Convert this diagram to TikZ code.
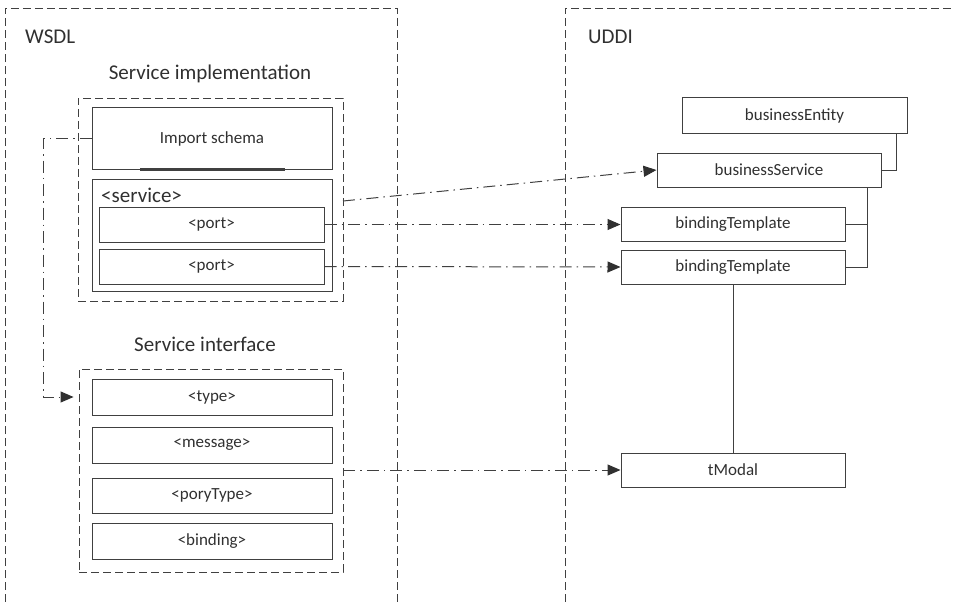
\documentclass[tikz,border=0pt]{standalone}
\usepackage{fontspec}
\setmainfont{Carlito}
\usetikzlibrary{arrows.meta}
\definecolor{ln}{HTML}{404040}
\definecolor{tx}{HTML}{303030}
\begin{document}
\begin{tikzpicture}[x=1pt,y=-1pt,
  box/.style={draw=ln, line width=1pt, rectangle, inner sep=0pt, text=tx, font=\fontsize{17}{20}\selectfont},
  grp/.style={draw=ln, line width=0.9pt, dash pattern=on 8pt off 4pt, rectangle, inner sep=0pt},
  ttl/.style={text=tx, font=\fontsize{21}{25}\selectfont, inner sep=0pt},
  ddash/.style={draw=ln, line width=1pt, dash pattern=on 12pt off 5pt on 1.5pt off 5pt},
  arr/.style={ddash, -{Triangle[length=13pt,width=11pt,color=tx]}},
  conn/.style={draw=ln, line width=1pt}]
\useasboundingbox (0,0) rectangle (954,602);
% outer frames
\draw[grp] (5,602) -- (5,8) -- (397,8) -- (397,602);
\draw[grp] (565,602) -- (565,8) -- (954,8);
\node[ttl, anchor=west] (wsdl) at (25,37) {WSDL};
\node[ttl, anchor=west] (uddi) at (588,37) {UDDI};
% service implementation
\node[ttl] (sitl) at (210,74) {Service implementation};
\node[grp, minimum width=265pt, minimum height=203pt] (siBox) at (210.5,199.5) {};
\node[box, minimum width=240pt, minimum height=61pt] (imp) at (212,138.5) {Import schema};
\draw[ln, line width=2.2pt] ([xshift=-72pt]imp.south) -- ([xshift=73pt]imp.south);
\node[box, minimum width=240pt, minimum height=112pt] (svc) at (212,235) {};
\node[ttl, anchor=west] (svcl) at (101,195) {<service>};
\node[box, minimum width=225pt, minimum height=35pt] (port1) at (211.5,224.5) {<port>};
\node[box, minimum width=225pt, minimum height=35pt] (port2) at (211.5,266.5) {<port>};
% service interface
\node[ttl] (sift) at (205,344) {Service interface};
\node[grp, minimum width=264pt, minimum height=203pt] (sifBox) at (211,470.5) {};
\node[box, minimum width=240pt, minimum height=36pt] (type) at (212,397) {<type>};
\node[box, minimum width=240pt, minimum height=36pt] (msg) at (212,445) {<message>};
\node[box, minimum width=240pt, minimum height=35pt] (ptype) at (212,495.5) {<poryType>};
\node[box, minimum width=240pt, minimum height=36pt] (bind) at (212,541) {<binding>};
% UDDI
\node[box, minimum width=225pt, minimum height=35pt] (be) at (794.5,115.5) {businessEntity};
\node[box, minimum width=224pt, minimum height=34pt] (bs) at (769,170) {businessService};
\node[box, minimum width=224pt, minimum height=34pt] (bt1) at (733,224.5) {bindingTemplate};
\node[box, minimum width=224pt, minimum height=34pt] (bt2) at (733,267) {bindingTemplate};
\node[box, minimum width=224pt, minimum height=34pt] (tm) at (733,470) {tModal};
% solid connectors
\draw[conn] ([xshift=-11pt]be.south east) |- (bs.east);
\coordinate (bsd) at ([xshift=-14pt]bs.south east);
\draw[conn] (bsd) |- (bt2.east);
\draw[conn] (bt1.east) -- (bt1.east -| bsd);
\draw[conn] (bt2.south) -- (tm.north);
% dash-dot arrows
\coordinate (s1) at (343,201);
\draw[arr] (s1) -- (bs.west);
\draw[arr] (port1.east) -- (bt1.west);
\draw[arr] (port2.east) -- (bt2.west);
\draw[arr] (sifBox.east |- tm.west) -- (tm.west);
\coordinate (lft) at (43,138.5);
\coordinate (tgt) at ([xshift=-5pt]sifBox.west |- type.west);
\draw[arr] (imp.west) -- (lft) |- (tgt);
\end{tikzpicture}
\end{document}
